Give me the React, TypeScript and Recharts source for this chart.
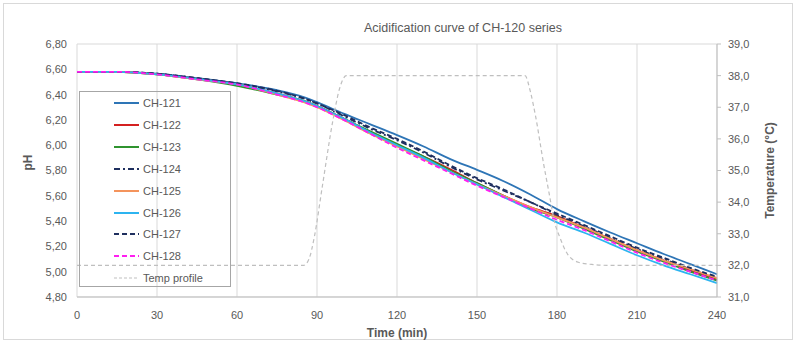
import { CartesianGrid, Line, LineChart, XAxis, YAxis } from 'recharts';

const TIME = [0, 15, 30, 45, 60, 75, 85, 90, 100, 110, 120, 130, 140, 150, 160, 170, 180, 190, 200, 210, 220, 230, 240];

const CH121 = [6.58, 6.58, 6.565, 6.53, 6.49, 6.435, 6.38, 6.34, 6.25, 6.165, 6.08, 5.99, 5.89, 5.805, 5.715, 5.61, 5.495, 5.4, 5.31, 5.225, 5.14, 5.06, 4.98];
const CH122 = [6.58, 6.58, 6.56, 6.525, 6.48, 6.41, 6.35, 6.31, 6.21, 6.1, 6.0, 5.91, 5.81, 5.7, 5.6, 5.51, 5.44, 5.35, 5.26, 5.17, 5.09, 5.01, 4.94];
const CH123 = [6.58, 6.58, 6.56, 6.52, 6.47, 6.4, 6.35, 6.31, 6.21, 6.11, 6.01, 5.91, 5.8, 5.7, 5.6, 5.5, 5.43, 5.34, 5.25, 5.16, 5.08, 5.0, 4.93];
const CH124 = [6.58, 6.58, 6.565, 6.53, 6.485, 6.425, 6.37, 6.33, 6.23, 6.13, 6.04, 5.94, 5.83, 5.73, 5.64, 5.55, 5.45, 5.36, 5.27, 5.18, 5.1, 5.02, 4.95];
const CH125 = [6.58, 6.58, 6.56, 6.52, 6.48, 6.4, 6.34, 6.3, 6.2, 6.09, 5.99, 5.89, 5.79, 5.69, 5.6, 5.51, 5.43, 5.35, 5.26, 5.17, 5.09, 5.02, 4.95];
const CH126 = [6.58, 6.58, 6.56, 6.525, 6.48, 6.41, 6.35, 6.31, 6.21, 6.1, 6.0, 5.9, 5.79, 5.69, 5.59, 5.49, 5.39, 5.31, 5.22, 5.13, 5.05, 4.98, 4.91];
const CH127 = [6.58, 6.58, 6.565, 6.53, 6.49, 6.43, 6.37, 6.33, 6.24, 6.14, 6.05, 5.95, 5.84, 5.74, 5.65, 5.55, 5.46, 5.37, 5.28, 5.19, 5.11, 5.03, 4.96];
const CH128 = [6.58, 6.58, 6.56, 6.52, 6.48, 6.4, 6.34, 6.3, 6.2, 6.09, 5.98, 5.88, 5.78, 5.68, 5.59, 5.5, 5.41, 5.33, 5.24, 5.15, 5.07, 5.0, 4.93];

const TEMP_TIME = [0, 85, 87, 89, 92, 96, 98.5, 101, 168, 170, 172, 175, 177, 179, 181, 184, 188, 193, 200, 240];
const TEMP_VALUES = [32, 32, 32.2, 32.9, 34.5, 36.6, 37.6, 38, 38, 37.5, 36.7, 35.2, 34.3, 33.4, 32.9, 32.35, 32.1, 32.03, 32, 32];

const X_TICKS = [0, 30, 60, 90, 120, 150, 180, 210, 240];
const PH_TICKS = [4.8, 5.0, 5.2, 5.4, 5.6, 5.8, 6.0, 6.2, 6.4, 6.6, 6.8];
const TEMP_TICKS = [31, 32, 33, 34, 35, 36, 37, 38, 39];

const series = [
	{ name: 'CH-121', values: CH121, color: '#2E75B6', dash: undefined },
	{ name: 'CH-122', values: CH122, color: '#D42020', dash: undefined },
	{ name: 'CH-123', values: CH123, color: '#2F932F', dash: undefined },
	{ name: 'CH-124', values: CH124, color: '#1F2F5F', dash: '6 3 2 3' },
	{ name: 'CH-125', values: CH125, color: '#F4945C', dash: undefined },
	{ name: 'CH-126', values: CH126, color: '#2DB4F0', dash: undefined },
	{ name: 'CH-127', values: CH127, color: '#1F2F5F', dash: '5 3' },
	{ name: 'CH-128', values: CH128, color: '#FF1FF0', dash: '5 3' },
];

const phData = TIME.map((t, i) => {
	const row: Record<string, number> = { t };
	series.forEach((s) => {
		row[s.name] = s.values[i];
	});
	return row;
});

const tempData = TEMP_TIME.map((t, i) => ({ t, temp: TEMP_VALUES[i] }));

const FONT = '"Liberation Sans", Arial, sans-serif';
const GREY = '#595959';

const comma = (v: number, d: number) => v.toFixed(d).replace('.', ',');

const Legend = () => (
	<div
		style={{
			position: 'absolute',
			left: 79,
			top: 91,
			width: 152,
			height: 196,
			border: '1px solid #A6A6A6',
			boxSizing: 'border-box',
			fontFamily: FONT,
			fontSize: 11,
			color: GREY,
		}}
	>
		{[...series, { name: 'Temp profile', color: '#BFBFBF', dash: '3 2' }].map((s, i) => (
			<div
				key={s.name}
				style={{ position: 'absolute', left: 34, top: 3 + i * 21.9, height: 16, display: 'flex', alignItems: 'center' }}
			>
				<svg width={26} height={6}>
					<line
						x1={0}
						y1={3}
						x2={25}
						y2={3}
						stroke={s.color}
						strokeWidth={s.name === 'Temp profile' ? 1.2 : 2}
						strokeDasharray={s.dash}
					/>
				</svg>
				<span style={{ marginLeft: 3 }}>{s.name}</span>
			</div>
		))}
	</div>
);

const App = () => {
	return (
		<div
			style={{
				position: 'absolute',
				left: 0,
				top: 0,
				width: 800,
				height: 344,
				background: '#fff',
				fontFamily: FONT,
			}}
		>
			<div
				style={{
					position: 'absolute',
					left: 3,
					top: 3,
					width: 790,
					height: 337,
					border: '1px solid #D9D9D9',
					boxSizing: 'border-box',
				}}
			/>
			<div
				style={{
					position: 'absolute',
					left: 0,
					width: 926,
					top: 21,
					textAlign: 'center',
					fontSize: 12.5,
					color: GREY,
				}}
			>
				Acidification curve of CH-120 series
			</div>
			<div style={{ position: 'absolute', left: 0, top: 0 }}>
				<LineChart width={800} height={344} data={phData} margin={{ top: 44, right: 0, left: 0, bottom: 0 }}>
					<CartesianGrid stroke='#D9D9D9' />
					<XAxis
						dataKey='t'
						type='number'
						domain={[0, 240]}
						ticks={X_TICKS}
						height={47}
						tickSize={0}
						tickMargin={14}
						stroke='#BFBFBF'
						tick={{ fill: GREY, fontSize: 11, fontFamily: FONT }}
						label={{
							value: 'Time (min)',
							position: 'insideBottom',
							offset: 7,
							fill: GREY,
							fontSize: 12,
							fontWeight: 'bold',
							fontFamily: FONT,
						}}
					/>
					<YAxis
						yAxisId='ph'
						domain={[4.8, 6.8]}
						ticks={PH_TICKS}
						width={77}
						axisLine={false}
						tickLine={false}
						tickSize={0}
						tickMargin={10}
						tickFormatter={(v: number) => comma(v, 2)}
						tick={{ fill: GREY, fontSize: 11, fontFamily: FONT }}
						label={{
							value: 'pH',
							angle: -90,
							position: 'insideLeft',
							offset: 28,
							fill: GREY,
							fontSize: 12,
							fontWeight: 'bold',
							fontFamily: FONT,
						}}
					/>
					<YAxis
						yAxisId='temp'
						orientation='right'
						domain={[31, 39]}
						ticks={TEMP_TICKS}
						width={83}
						stroke='#BFBFBF'
						tickSize={4}
						tickMargin={7}
						tickFormatter={(v: number) => comma(v, 1)}
						tick={{ fill: GREY, fontSize: 11, fontFamily: FONT }}
						label={{
							value: 'Temperature (°C)',
							angle: -90,
							position: 'insideRight',
							offset: 30,
							fill: GREY,
							fontSize: 12,
							fontWeight: 'bold',
							fontFamily: FONT,
							style: { textAnchor: 'middle' },
						}}
					/>
					{series.map((s) => (
						<Line
							key={s.name}
							yAxisId='ph'
							type='monotone'
							dataKey={s.name}
							stroke={s.color}
							strokeWidth={1.8}
							strokeDasharray={s.dash}
							dot={false}
							activeDot={false}
							isAnimationActive={false}
						/>
					))}
					<Line
						yAxisId='temp'
						data={tempData}
						type='monotone'
						dataKey='temp'
						name='Temp profile'
						stroke='#BFBFBF'
						strokeWidth={1.2}
						strokeDasharray='4 3'
						dot={false}
						activeDot={false}
						isAnimationActive={false}
					/>
				</LineChart>
			</div>
			<Legend />
		</div>
	);
};

export default App;
